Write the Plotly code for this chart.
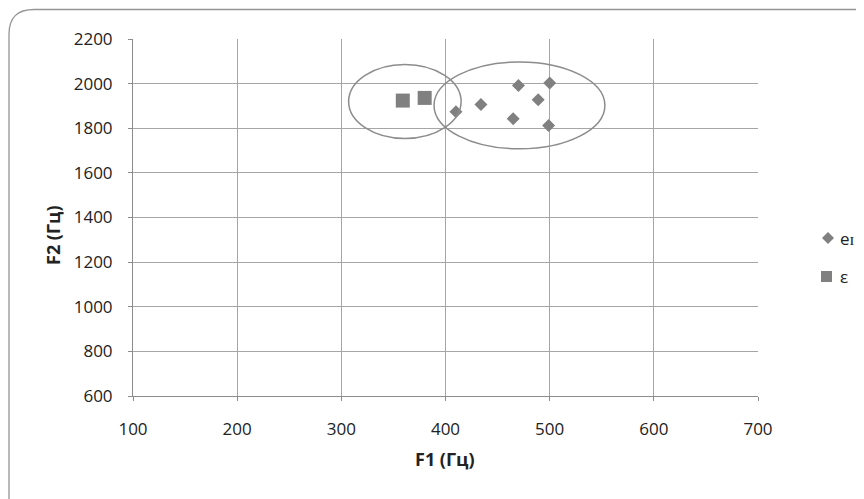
import plotly.graph_objects as go

# Data
ei_f1 = [410, 434, 465, 470, 489, 500, 499]
ei_f2 = [1874, 1906, 1843, 1992, 1928, 2003, 1812]
eps_f1 = [359, 380]
eps_f2 = [1924, 1936]

# Ellipses (x0, x1, y0, y1) in data units
ellipses = [
    (307, 415, 1754, 2086),
    (389, 553, 1708, 2097),
]

x_ticks = [100, 200, 300, 400, 500, 600, 700]
y_ticks = [600, 800, 1000, 1200, 1400, 1600, 1800, 2000, 2200]
legend_names = ["eɪ", "ε"]

FONT = "Open Sans"
GREY = "#808080"
TXT = "#222222"

W, H = 864, 499
L, T, PW, PH = 125, 31, 625, 357
R, B = W - L - PW, H - T - PH


def px(x):
    return (x - L) / PW


def py(y):
    return (T + PH - y) / PH


fig = go.Figure()
fig.add_trace(go.Scatter(
    x=ei_f1, y=ei_f2, mode="markers", name=legend_names[0],
    marker=dict(symbol="diamond", size=10, color=GREY, line=dict(width=0)),
))
fig.add_trace(go.Scatter(
    x=eps_f1, y=eps_f2, mode="markers", name=legend_names[1],
    marker=dict(symbol="square", size=14, color=GREY, line=dict(width=0)),
))

for x0, x1, y0, y1 in ellipses:
    fig.add_shape(type="circle", xref="x", yref="y", x0=x0, x1=x1, y0=y0, y1=y1,
                  line=dict(color="#8c8c8c", width=1.5))

# rounded outer frame (only top-left corner is visible)
path = (f"M {px(1)} {py(520)} L {px(1)} {py(26)} "
        f"Q {px(1)} {py(1.5)} {px(26)} {py(1.5)} L {px(880)} {py(1.5)}")
fig.add_shape(type="path", xref="paper", yref="paper", path=path,
              line=dict(color="#959595", width=1.3), layer="below")

# custom legend
dcx, dcy, dr = 820, 230, 6
fig.add_shape(type="path", xref="paper", yref="paper",
              path=(f"M {px(dcx - dr)} {py(dcy)} L {px(dcx)} {py(dcy - dr)} "
                    f"L {px(dcx + dr)} {py(dcy)} L {px(dcx)} {py(dcy + dr)} Z"),
              fillcolor=GREY, line=dict(width=0))
scx, scy, sh = 818.5, 268.5, 5.5
fig.add_shape(type="rect", xref="paper", yref="paper",
              x0=px(scx - sh), x1=px(scx + sh), y0=py(scy + sh), y1=py(scy - sh),
              fillcolor=GREY, line=dict(width=0))
for name, yy in zip(legend_names, [dcy, scy]):
    fig.add_annotation(text=name, xref="paper", yref="paper", x=px(830), y=py(yy),
                       xanchor="left", yanchor="middle", showarrow=False,
                       font=dict(family=FONT, size=17, color=TXT))

# axis titles
fig.add_annotation(text="<b>F1 (Гц)</b>", xref="paper", yref="paper",
                   x=px(437), y=py(451), xanchor="center", yanchor="middle",
                   showarrow=False, font=dict(family=FONT, size=18, color=TXT))
fig.add_annotation(text="<b>F2 (Гц)</b>", xref="paper", yref="paper",
                   x=px(45), y=py(227), xanchor="center", yanchor="middle",
                   textangle=-90, showarrow=False,
                   font=dict(family=FONT, size=18, color=TXT))

axis_common = dict(showgrid=True, gridcolor="#a6a6a6", gridwidth=1, zeroline=False,
                   showline=True, linecolor="#8c8c8c", linewidth=1,
                   ticks="outside", ticklen=4, tickcolor="#8c8c8c",
                   tickfont=dict(family=FONT, size=17, color=TXT))

fig.update_layout(
    width=W, height=H,
    margin=dict(l=L, r=R, t=T, b=B, autoexpand=False),
    paper_bgcolor="white", plot_bgcolor="white",
    font=dict(family=FONT, size=17, color=TXT),
    showlegend=False,
    xaxis=dict(range=[100, 700], tickvals=x_ticks, ticklabelstandoff=14, **axis_common),
    yaxis=dict(range=[600, 2200], tickvals=y_ticks, ticklabelstandoff=12, **axis_common),
)

fig.write_html("out.html")
